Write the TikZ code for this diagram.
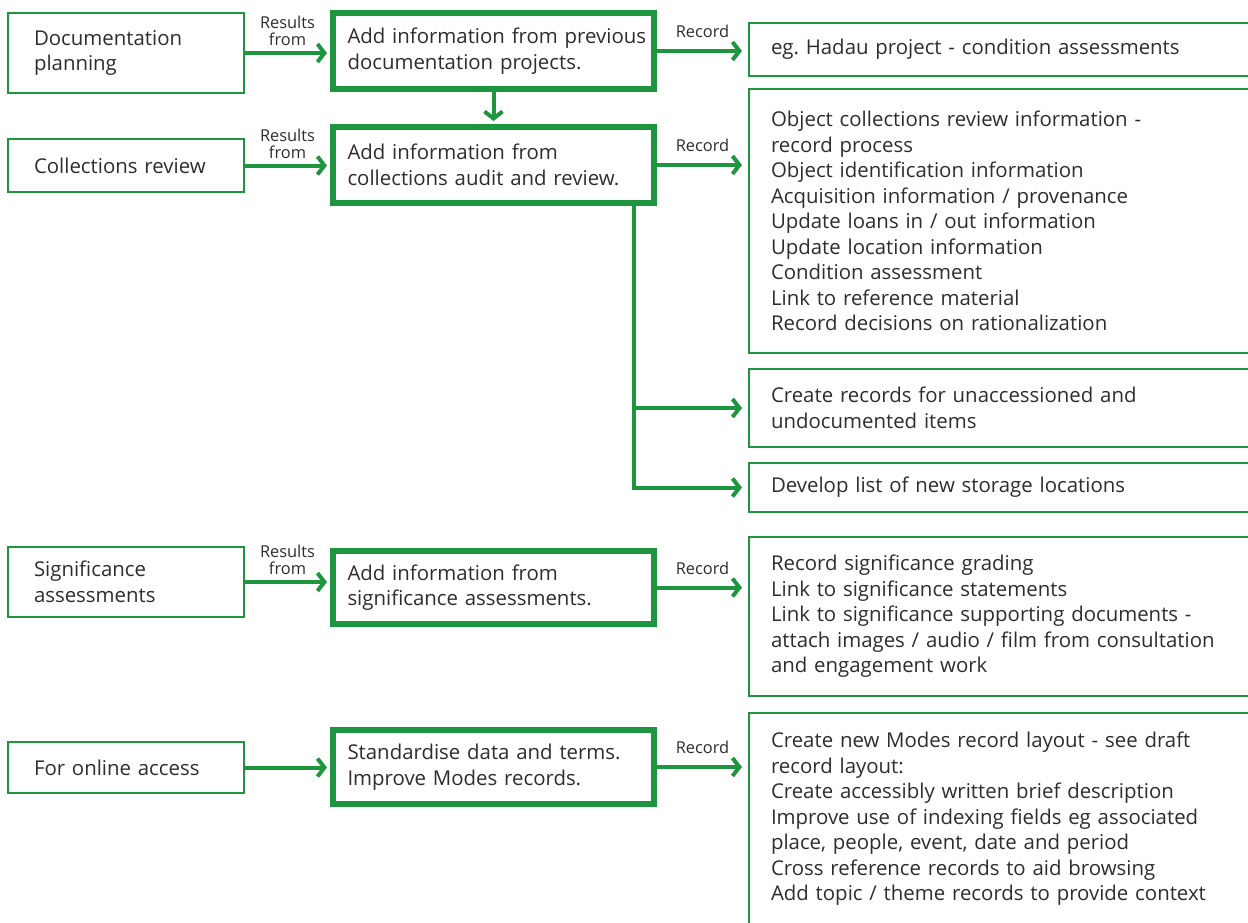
\documentclass[tikz,border=0pt]{standalone}
\usepackage{fontspec}
\setmainfont{Open Sans}
\usepackage{tikz}
\usetikzlibrary{positioning,arrows.meta,calc}
\definecolor{recgreen}{RGB}{30,150,64}
\definecolor{ink}{RGB}{45,45,45}
\frenchspacing

\begin{document}
\begin{tikzpicture}[x=0.5pt,y=-0.5pt,
  src/.style={draw=recgreen,line width=1pt,anchor=north west,minimum width=118pt,
              text width=92pt,align=left,inner xsep=13pt,inner ysep=0pt,text=ink,
              font=\fontsize{10.2}{12.75}\selectfont},
  act/.style={src,line width=3pt,minimum width=160.5pt,text width=146pt,inner xsep=7.25pt},
  rec/.style={src,minimum width=257pt,text width=235pt,inner xsep=11pt},
  lbl/.style={font=\fontsize{8.2}{8.6}\selectfont,text=ink,align=center,inner sep=2.5pt},
  flow/.style={draw=recgreen,line width=2pt,shorten >=1.5pt,
               -{Straight Barb[length=3.5pt,width=9pt]}}]
\useasboundingbox (0,0) rectangle (1248,922);
\clip (0,0) rectangle (1248,922);
\node[src,minimum height=40pt] (dp) at (7,12) {Documentation\\planning};
\node[src,minimum height=26.5pt] (cr) at (7,138) {Collections review};
\node[src,minimum height=35pt] (sa) at (7,546) {Significance\\assessments};
\node[src,minimum height=25.5pt] (oa) at (7,741) {For online access};
\node[act,minimum height=38pt] (m1) at (330,10) {\mbox{Add information from previous}\\documentation projects.};
\node[act,minimum height=38pt] (m2) at (330,124) {Add information from\\collections audit and review.};
\node[act,minimum height=36.5pt] (m3) at (330,548) {Add information from\\significance assessments.};
\node[act,minimum height=37pt] (m4) at (330,727) {Standardise data and terms.\\Improve Modes records.};
\node[rec,minimum height=26.5pt] (r1) at (748,22) {eg. Hadau project - condition assessments};
\node[rec,minimum height=132pt] (r2) at (748,88) {Object collections review information -\\record process\\
  Object identification information\\Acquisition information / provenance\\
  Update loans in / out information\\Update location information\\Condition assessment\\
  Link to reference material\\Record decisions on rationalization};
\node[rec,minimum height=39pt] (r3) at (748,368) {Create records for unaccessioned and\\undocumented items};
\node[rec,minimum height=24.5pt] (r4) at (748,462) {Develop list of new storage locations};
\node[rec,minimum height=79.5pt] (r5) at (748,536) {Record significance grading\\Link to significance statements\\
  Link to significance supporting documents -\\attach images / audio / film from consultation\\
  and engagement work};
\node[rec,minimum height=106pt] (r6) at (748,712) {Create new Modes record layout - see draft\\record layout:\\
  Create accessibly written brief description\\Improve use of indexing fields eg associated\\
  place, people, event, date and period\\Cross reference records to aid browsing\\
  Add topic / theme records to provide context};
\foreach \a/\b in {dp/m1,cr/m2,sa/m3}
  \draw[flow] (\a.east) -- node[lbl,above]{Results\\from} (\a.east -| \b.west);
\draw[flow] (oa.east) -- (oa.east -| m4.west);
\foreach \a/\b in {m1/r1,m2/r2,m3/r5,m4/r6}
  \draw[flow,shorten >=3pt] (\a.east) -- node[lbl,above=3pt]{Record} (\a.east -| \b.west);
\draw[flow] (m1) -- (m2);
\coordinate (br) at ($(m2.south west)!0.93!(m2.south east)$);
\draw[flow,shorten >=3pt] (br) |- (r3);
\draw[flow,shorten >=3pt] (br) |- (r4);
\end{tikzpicture}
\end{document}
